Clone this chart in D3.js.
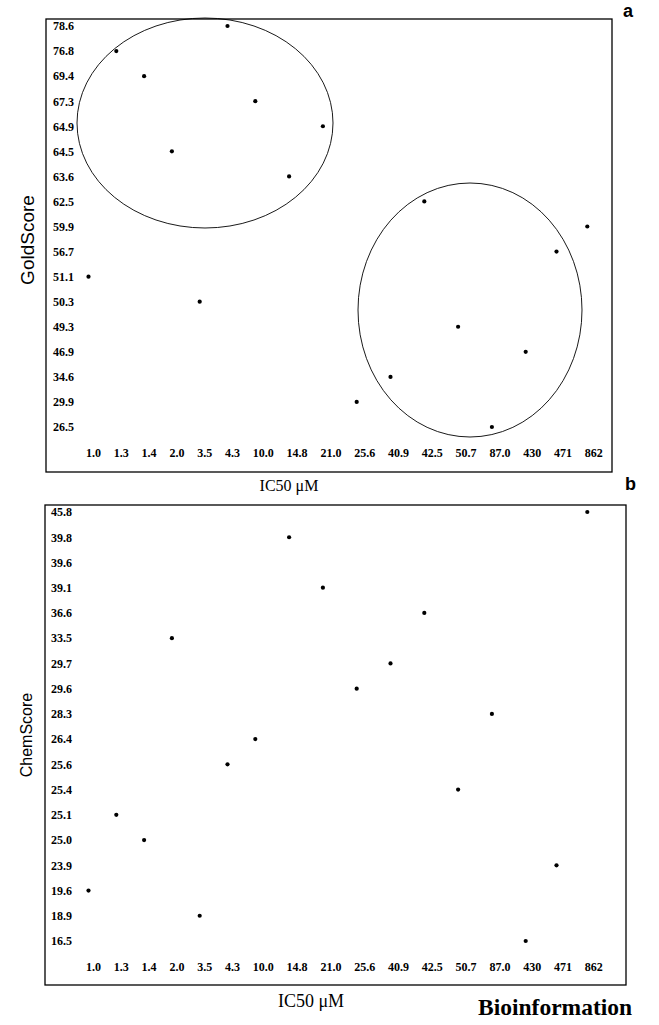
<!DOCTYPE html>
<html>
<head>
<meta charset="utf-8">
<script src="https://cdn.jsdelivr.net/npm/d3@7"></script>
<style>
  body { margin: 0; background: #fff; }
  svg { display: block; }
  .tick { font-family: "Liberation Serif", "Times New Roman", serif; font-weight: bold; font-size: 12px; fill: #000; }
</style>
</head>
<body>
<div id="chart"></div>
<script>
// IC50 (uM) categories, shared by both panels
var ic50 = ["1.0", "1.3", "1.4", "2.0", "3.5", "4.3", "10.0", "14.8", "21.0",
            "25.6", "40.9", "42.5", "50.7", "87.0", "430", "471", "862"];

// panel a
var goldTicks = ["78.6", "76.8", "69.4", "67.3", "64.9", "64.5", "63.6", "62.5", "59.9",
                 "56.7", "51.1", "50.3", "49.3", "46.9", "34.6", "29.9", "26.5"];
var goldScore = ["51.1", "76.8", "69.4", "64.5", "50.3", "78.6", "67.3", "63.6", "64.9",
                 "29.9", "34.6", "62.5", "49.3", "26.5", "46.9", "56.7", "59.9"];

// panel b
var chemTicks = ["45.8", "39.8", "39.6", "39.1", "36.6", "33.5", "29.7", "29.6", "28.3",
                 "26.4", "25.6", "25.4", "25.1", "25.0", "23.9", "19.6", "18.9", "16.5"];
var chemScore = ["19.6", "25.1", "25.0", "33.5", "18.9", "25.6", "26.4", "39.8", "39.1",
                 "29.6", "29.7", "36.6", "25.4", "28.3", "16.5", "23.9", "45.8"];

var W = 659, H = 1025;
var svg = d3.select("#chart").append("svg")
    .attr("width", W)
    .attr("height", H);

// x labels are laid out one after another: start + text width + gap
var measure = svg.append("text").attr("class", "tick").attr("x", -100).attr("y", -100);
var xStart = 86, gap = 12.8, acc = xStart;
var xRange = ic50.map(function(d) {
  var pos = acc;
  measure.text(d);
  acc += measure.node().getComputedTextLength() + gap;
  return pos;
});
measure.remove();
var x = d3.scaleOrdinal().domain(ic50).range(xRange);
var dotShift = 2.5; // dots sit just right of the label's first glyph

function panel(opt) {
  var g = svg.append("g");

  g.append("rect")
    .attr("x", opt.box[0]).attr("y", opt.box[1])
    .attr("width", opt.box[2]).attr("height", opt.box[3])
    .attr("fill", "none").attr("stroke", "#000").attr("stroke-width", 1.3);

  var y = d3.scalePoint().domain(opt.ticks).range(opt.yRange);

  // y tick labels
  g.selectAll("text.ytick")
    .data(opt.ticks)
    .enter().append("text")
      .attr("class", "tick ytick")
      .attr("x", opt.yLabelX)
      .attr("y", function(d) { return y(d); })
      .attr("dy", "0.36em")
      .text(function(d) { return d; });

  // x tick labels
  g.selectAll("text.xtick")
    .data(ic50)
    .enter().append("text")
      .attr("class", "tick xtick")
      .attr("x", function(d) { return x(d); })
      .attr("y", opt.xLabelY)
      .text(function(d) { return d; });

  // ellipses drawn around clusters (annotation)
  (opt.ellipses || []).forEach(function(e) {
    g.append("ellipse")
      .attr("cx", e.cx).attr("cy", e.cy)
      .attr("rx", e.rx).attr("ry", e.ry)
      .attr("fill", "none").attr("stroke", "#000").attr("stroke-width", 0.9);
  });

  // points
  g.selectAll("circle")
    .data(opt.values)
    .enter().append("circle")
      .attr("cx", function(d, i) { return x(ic50[i]) + dotShift; })
      .attr("cy", function(d) { return y(d); })
      .attr("r", 2.1)
      .attr("fill", "#000");

  // titles
  g.append("text")
    .attr("x", opt.xTitle[0]).attr("y", opt.xTitle[1])
    .attr("text-anchor", "middle")
    .attr("font-family", "Liberation Serif, Times New Roman, serif")
    .attr("font-size", opt.xTitle[2])
    .text("IC50 \u03bcM");

  g.append("text")
    .attr("transform", "translate(" + opt.yTitle[0] + "," + opt.yTitle[1] + ") rotate(-90)")
    .attr("text-anchor", "middle")
    .attr("font-family", "Liberation Sans, Arial, sans-serif")
    .attr("font-size", opt.yTitle[2])
    .text(opt.yTitleText);

  g.append("text")
    .attr("x", opt.tag[0]).attr("y", opt.tag[1])
    .attr("font-family", "Liberation Sans, Arial, sans-serif")
    .attr("font-weight", "bold")
    .attr("font-size", 18)
    .text(opt.tagText);
}

panel({
  box: [46, 19, 566, 453],
  ticks: goldTicks,
  values: goldScore,
  yRange: [26, 427],
  yLabelX: 53,
  xLabelY: 457,
  xTitle: [289, 491, 16],
  yTitle: [34, 240, 19],
  yTitleText: "GoldScore",
  tag: [623, 17],
  tagText: "a",
  ellipses: [
    { cx: 205, cy: 123, rx: 128, ry: 105 },
    { cx: 470, cy: 310, rx: 112, ry: 127 }
  ]
});

panel({
  box: [45, 505, 581, 480],
  ticks: chemTicks,
  values: chemScore,
  yRange: [512, 941],
  yLabelX: 51,
  xLabelY: 971,
  xTitle: [311, 1007, 18],
  yTitle: [32, 735, 16],
  yTitleText: "ChemScore",
  tag: [625, 490],
  tagText: "b"
});

svg.append("text")
  .attr("x", 478).attr("y", 1015)
  .attr("font-family", "Liberation Serif, Times New Roman, serif")
  .attr("font-weight", "bold")
  .attr("font-size", 23.5)
  .text("Bioinformation");
</script>
</body>
</html>
